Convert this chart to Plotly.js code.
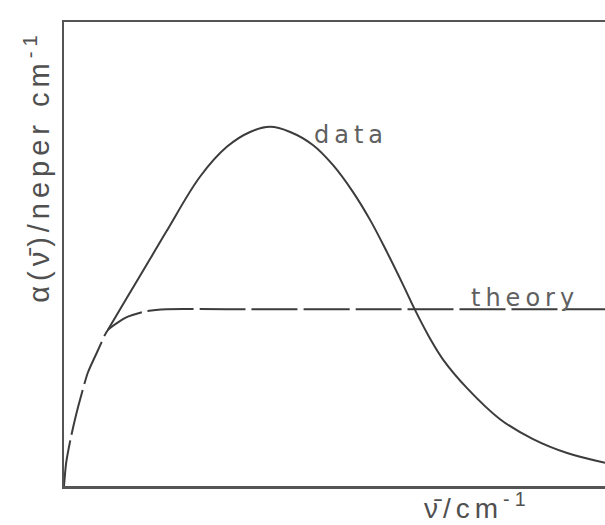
<!DOCTYPE html>
<html>
<head>
<meta charset="utf-8">
<script src="https://cdn.plot.ly/plotly-3.0.1.min.js"></script>
<style>
  html, body { margin: 0; padding: 0; background: #fff; overflow: hidden; }
  /* wide hand-lettered spacing for all labels */
  .annotation-text { letter-spacing: 5px; }
</style>
</head>
<body>
<div id="chart" style="width:605px;height:525px;"></div>
<script>
// Measured absorption coefficient (arbitrary units) against wavenumber (arbitrary units)
const dataNu    = [8.1, 11.6, 15.9, 19.0, 25.1, 30.1, 34.4, 38.1, 41.8, 46.0, 49.7, 53.4, 56.6, 59.7, 62.7, 64.9, 67.7, 70.1, 74.5, 80.6, 86.7, 93.0, 100];
const dataAlpha = [33.6, 40.5, 48.9, 55.0, 66.6, 73.1, 76.3, 77.4, 76.3, 73.5, 69.2, 63.4, 57.3, 50.4, 43.3, 37.9, 31.7, 27.2, 21.1, 14.4, 10.1, 7.1, 5.0];

// Theoretical absorption curve
const theoryNu    = [0, 0.4, 1.3, 2.6, 4.4, 6.3, 8.1, 11.6, 15.3, 19.0, 30, 60, 100];
const theoryAlpha = [0, 5.0, 10.6, 17.0, 24.4, 29.3, 33.6, 36.4, 37.7, 38.1, 38.1, 38.1, 38.1];

const ink = '#3c3c3c';

const traces = [
  {
    x: theoryNu, y: theoryAlpha, mode: 'lines', name: 'theory',
    line: { color: ink, width: 2, dash: '46px,6px', shape: 'spline', smoothing: 0.6 },
    hoverinfo: 'skip'
  },
  {
    x: dataNu, y: dataAlpha, mode: 'lines', name: 'data',
    line: { color: ink, width: 2, shape: 'spline', smoothing: 1 },
    hoverinfo: 'skip'
  }
];

const labelFont = { family: 'Liberation Sans, Arial, sans-serif', size: 28, color: '#505050' };
const curveFont = { family: 'DejaVu Sans, sans-serif', size: 24, color: '#606060' };

const layout = {
  width: 605, height: 525,
  margin: { l: 64, r: 0, t: 22, b: 39 },
  paper_bgcolor: '#fff', plot_bgcolor: '#fff',
  showlegend: false,
  xaxis: {
    range: [0, 100], showgrid: false, zeroline: false, showticklabels: false, ticks: '',
    showline: true, mirror: true, linecolor: '#555', linewidth: 2.5
  },
  yaxis: {
    range: [0, 100], showgrid: false, zeroline: false, showticklabels: false, ticks: '',
    showline: true, mirror: false, linecolor: '#555', linewidth: 2.5
  },
  annotations: [
    { text: 'data', xref: 'paper', yref: 'paper', x: 0.531, y: 0.756,
      xanchor: 'center', yanchor: 'middle', showarrow: false, font: curveFont },
    { text: 'theory', xref: 'paper', yref: 'paper', x: 0.853, y: 0.405,
      xanchor: 'center', yanchor: 'middle', showarrow: false, font: curveFont },
    { text: 'ν\u0304/cm<sup>-1</sup>', xref: 'paper', yref: 'paper', x: 0.765, y: -0.044,
      xanchor: 'center', yanchor: 'middle', showarrow: false, borderpad: 0, font: labelFont },
    { text: 'α(ν\u0304)/neper cm<sup>-1</sup>', xref: 'paper', yref: 'paper', x: -0.05, y: 0.69,
      xanchor: 'center', yanchor: 'middle', textangle: -90, showarrow: false,
      font: Object.assign({}, labelFont, { size: 29 }) }
  ]
};

Plotly.newPlot('chart', traces, layout, { staticPlot: true, displayModeBar: false });
</script>
</body>
</html>
